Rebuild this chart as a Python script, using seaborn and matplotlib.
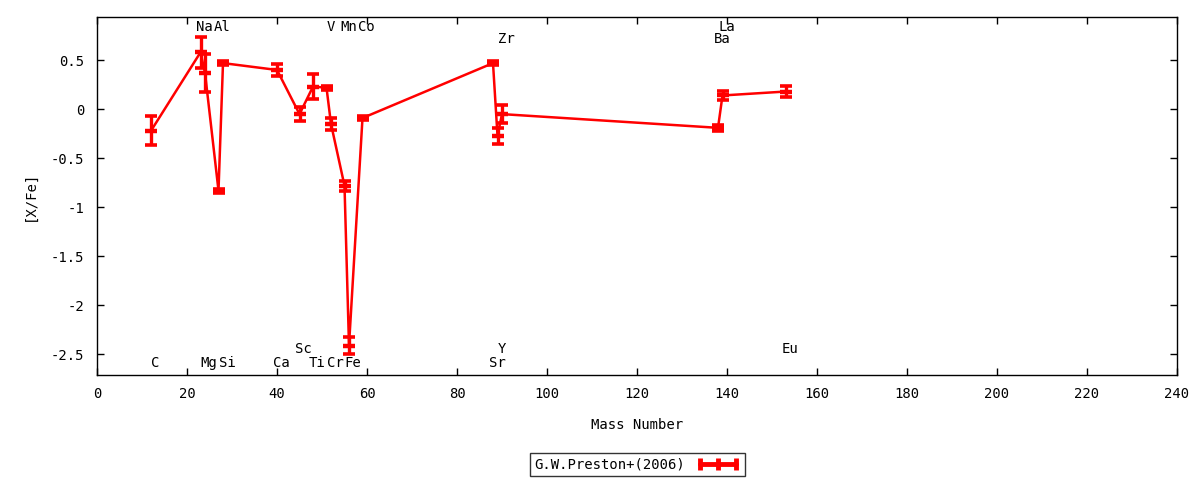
import numpy as np
import pandas as pd
import matplotlib
matplotlib.use("Agg")
import matplotlib.pyplot as plt
import seaborn as sns
from matplotlib.lines import Line2D
from matplotlib.ticker import FuncFormatter

elements = ["C", "Na", "Mg", "Al", "Si", "Ca", "Sc", "Ti", "V", "Cr",
            "Mn", "Fe", "Co", "Sr", "Y", "Zr", "Ba", "La", "Eu"]
mass_number = [12, 23, 24, 27, 28, 40, 45, 48, 51, 52,
               55, 56, 59, 88, 89, 90, 138, 139, 153]
x_fe = [-0.22, 0.58, 0.37, -0.83, 0.47, 0.40, -0.05, 0.23, 0.22, -0.15,
        -0.78, -2.41, -0.09, 0.47, -0.27, -0.05, -0.19, 0.14, 0.18]
x_fe_err = [0.15, 0.16, 0.19, 0.02, 0.02, 0.06, 0.07, 0.13, 0.02, 0.06,
            0.05, 0.09, 0.02, 0.02, 0.08, 0.09, 0.03, 0.05, 0.06]
label_row = ["bot", "top", "bot", "top", "bot", "bot", "bot2", "bot", "top", "bot",
             "top", "bot", "top", "bot", "bot2", "top2", "top2", "top", "bot2"]

source = "G.W.Preston+(2006)"

df = pd.DataFrame({
    "element": elements,
    "mass": mass_number,
    "xfe": x_fe,
    "err": x_fe_err,
    "row": label_row,
})

sns.set_theme(style="ticks")
plt.rcParams["font.family"] = ["DejaVu Sans Mono"]
plt.rcParams["font.size"] = 10
plt.rcParams["text.color"] = "black"

fig = plt.figure(figsize=(12, 4.8), dpi=100)
ax = fig.add_axes([97 / 1200, 105 / 480, 1080 / 1200, 358 / 480])

red = "#ff0000"

# connecting line, in the order the elements are listed
sns.lineplot(
    data=df,
    x="mass",
    y="xfe",
    sort=False,
    estimator=None,
    color=red,
    linewidth=1.8,
    ax=ax,
    legend=False
)

ax.errorbar(
    df["mass"], df["xfe"], yerr=df["err"],
    fmt="none", ecolor=red, elinewidth=2.4,
    capsize=4, capthick=2.6
)
ax.plot(df["mass"], df["xfe"], linestyle="none", marker="_",
        markersize=9, markeredgewidth=3.2, color=red)

row_y = {"top": 0.84, "top2": 0.72, "bot": -2.59, "bot2": -2.45}
for _, r in df.iterrows():
    ax.text(r["mass"] + 0.9, row_y[r["row"]], r["element"],
            ha="center", va="center", fontsize=10, color="black")

ax.set_xlim(0, 240)
ax.set_ylim(-2.71, 0.94)
ax.set_xticks(np.arange(0, 241, 20))
ax.set_yticks(np.arange(-2.5, 0.51, 0.5))
ax.yaxis.set_major_formatter(FuncFormatter(lambda v, p: "%g" % round(v, 2)))

ax.tick_params(direction="in", length=5, width=1, top=True, right=True,
               pad=9, labelsize=10, colors="black")
for s in ax.spines.values():
    s.set_linewidth(1)
    s.set_color("black")

ax.set_xlabel("Mass Number", fontsize=10, labelpad=12, color="black")
ax.set_ylabel("[X/Fe]", fontsize=10, labelpad=10, color="black")

handle = Line2D([], [], color=red, linewidth=3.5, marker="|",
                markersize=9, markeredgewidth=3.5)
leg = fig.legend(
    [handle], [source],
    loc="center", bbox_to_anchor=(0.531, 0.032),
    markerfirst=False, numpoints=3, handlelength=3.2,
    frameon=True, fancybox=False, edgecolor="black",
    borderpad=0.3, fontsize=10, handletextpad=0.8,
    borderaxespad=0
)
leg.get_frame().set_linewidth(1)

plt.savefig("out.png", dpi=100)
